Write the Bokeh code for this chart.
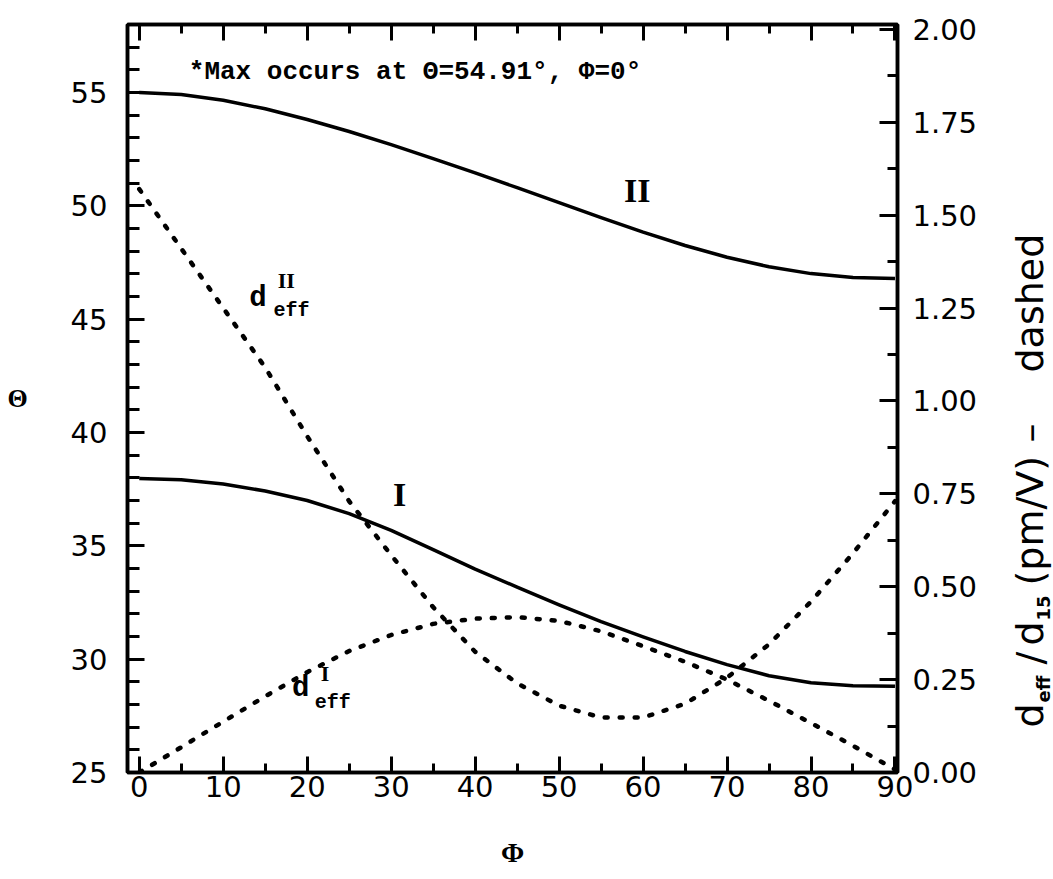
import math

from bokeh.core.properties import value
from bokeh.embed import file_html
from bokeh.layouts import row
from bokeh.models import (Label, LinearAxis, PrintfTickFormatter, Range1d,
                          SingleIntervalTicker)
from bokeh.plotting import figure
from bokeh.resources import INLINE

# Azimuth angle Phi (degrees)
phi = [0, 5, 10, 15, 20, 25, 30, 35, 40, 45, 50, 55, 60, 65, 70, 75, 80, 85, 90]

# Phase-matching polar angle Theta (degrees), type I and type II
theta_I = [37.97, 37.92, 37.73, 37.42, 37.00, 36.42, 35.68, 34.83, 33.97, 33.18,
           32.40, 31.66, 30.98, 30.34, 29.76, 29.27, 28.96, 28.83, 28.80]
theta_II = [55.00, 54.91, 54.66, 54.28, 53.81, 53.28, 52.70, 52.08, 51.45, 50.80,
            50.14, 49.48, 48.84, 48.25, 47.73, 47.31, 47.01, 46.84, 46.79]

# Effective nonlinear coefficient d_eff / d_15 (pm/V)
d_eff_I = [0.000, 0.068, 0.137, 0.205, 0.270, 0.327, 0.370, 0.400, 0.414, 0.418,
           0.408, 0.380, 0.340, 0.298, 0.250, 0.193, 0.133, 0.072, 0.008]
d_eff_II = [1.570, 1.410, 1.250, 1.090, 0.905, 0.730, 0.585, 0.445, 0.325, 0.240,
            0.180, 0.148, 0.148, 0.185, 0.255, 0.345, 0.460, 0.590, 0.730]

x_ticks_every = 10
theta_ticks_every = 5
d_ticks_every = 0.25

# right-hand title, split into normal-size pieces and subscripts
title_main = ["d", "/", "d", "(pm/V)", "–", "dashed"]
title_subs = ["eff", "15"]

PLOT_W, TITLE_W, H = 1000, 53, 879
LEFT, RIGHT, TOP, BOTTOM = 127, 103, 24, 107
FRAME_TOP, FRAME_BOTTOM = TOP, H - BOTTOM

p = figure(width=PLOT_W, height=H, output_backend="svg", toolbar_location=None,
           x_range=Range1d(-1.4, 90.3), y_range=Range1d(25, 58),
           min_border_left=LEFT, min_border_right=RIGHT,
           min_border_top=TOP, min_border_bottom=BOTTOM,
           background_fill_color="white", border_fill_color="white")
p.extra_y_ranges = {"d": Range1d(0, 2.013)}
p.xgrid.visible = False
p.ygrid.visible = False
p.outline_line_color = "black"
p.outline_line_width = 3.5

TICK_FONT = "DejaVu Sans"
MONO = "Liberation Mono"
SERIF = "Liberation Serif"


def style_axis(ax, major_len, minor_len):
    ax.major_tick_in = major_len
    ax.major_tick_out = 0
    ax.minor_tick_in = minor_len
    ax.minor_tick_out = 0
    ax.axis_line_width = 3.5
    ax.axis_line_color = "black"
    ax.major_tick_line_width = 3
    ax.minor_tick_line_width = 3
    ax.major_tick_line_color = "black"
    ax.minor_tick_line_color = "black"
    ax.major_label_text_font = TICK_FONT
    ax.major_label_text_font_size = "29px"
    ax.major_label_text_color = "black"


# bottom axis: Phi
xb = p.xaxis[0]
xb.ticker = SingleIntervalTicker(interval=x_ticks_every, num_minor_ticks=2)
style_axis(xb, 16, 9)
xb.major_label_standoff = 3
xb.axis_label = "Φ"
xb.axis_label_text_font = SERIF
xb.axis_label_text_font_style = "bold"
xb.axis_label_text_font_size = "28px"
xb.axis_label_text_color = "black"
xb.axis_label_standoff = 37

# left axis: Theta
yl = p.yaxis[0]
yl.ticker = SingleIntervalTicker(interval=theta_ticks_every, num_minor_ticks=5)
style_axis(yl, 17, 12)
yl.major_label_standoff = 20
yl.axis_label = "Θ"
yl.axis_label_orientation = "horizontal"
yl.axis_label_text_font = SERIF
yl.axis_label_text_font_style = "bold"
yl.axis_label_text_font_size = "26px"
yl.axis_label_text_color = "black"
yl.axis_label_standoff = 40

# right axis: d_eff / d_15
yr = LinearAxis(y_range_name="d",
                ticker=SingleIntervalTicker(interval=d_ticks_every, num_minor_ticks=2),
                formatter=PrintfTickFormatter(format="%.2f"))
style_axis(yr, 18, 10)
yr.major_label_standoff = 15
p.add_layout(yr, "right")

# top axis: ticks only
xt = LinearAxis(ticker=SingleIntervalTicker(interval=x_ticks_every, num_minor_ticks=2))
style_axis(xt, 16, 9)
xt.major_label_text_font_size = "1px"
xt.major_label_text_color = None
xt.major_label_standoff = 0
p.add_layout(xt, "above")

# phase-matching angles (solid)
p.line(phi, theta_I, line_color="black", line_width=3.5, line_join="round")
p.line(phi, theta_II, line_color="black", line_width=3.5, line_join="round")

# effective coefficients (dotted, right scale)
for d in (d_eff_I, d_eff_II):
    p.line(phi, d, y_range_name="d", line_color="black", line_width=4.5,
           line_dash="3 12", line_cap="round")


def add_text(text, x, y, font, size, align="left"):
    p.add_layout(Label(x=x, y=y, text=text, text_font=font,
                       text_font_size=f"{size}px", text_font_style="bold",
                       text_color="black", text_align=align,
                       text_baseline="alphabetic"))


add_text("*Max occurs at Θ=54.91°, Φ=0°", 5.9, 55.92, MONO, 26)

add_text("II", 59.3, 50.66, SERIF, 34, align="center")
add_text("I", 31.0, 37.28, SERIF, 34, align="center")

add_text("d", 13.1, 45.92, MONO, 29)
add_text("eff", 16.0, 45.40, MONO, 20)
add_text("II", 16.5, 46.70, SERIF, 22)

add_text("d", 18.2, 28.72, MONO, 29)
add_text("eff", 20.9, 28.07, MONO, 20)
add_text("I", 21.6, 29.38, SERIF, 22)

# narrow strip to the right holding the rotated title; its frame lines up
# with the main frame, so y here is the page pixel row (downward)
t = figure(width=TITLE_W, height=H, output_backend="svg", toolbar_location=None,
           x_range=Range1d(0, TITLE_W), y_range=Range1d(FRAME_BOTTOM, FRAME_TOP),
           min_border_left=0, min_border_right=0,
           min_border_top=TOP, min_border_bottom=BOTTOM,
           outline_line_color=None,
           x_axis_location=None, y_axis_location=None,
           background_fill_color="white", border_fill_color="white")
t.xgrid.visible = False
t.ygrid.visible = False

R = math.pi / 2
t.text(x=[29] * len(title_main), y=[727, 664, 645, 585, 442, 372],
       text=title_main, angle=R, text_font=value(TICK_FONT),
       text_font_size="38px", text_color="black",
       text_align="left", text_baseline="alphabetic")
t.text(x=[43] * len(title_subs), y=[702, 620],
       text=title_subs, angle=R, text_font=value(TICK_FONT),
       text_font_size="18px", text_font_style="bold", text_color="black",
       text_align="left", text_baseline="alphabetic")

layout = row(p, t, spacing=0)
open("out.html", "w").write(file_html(layout, INLINE))
